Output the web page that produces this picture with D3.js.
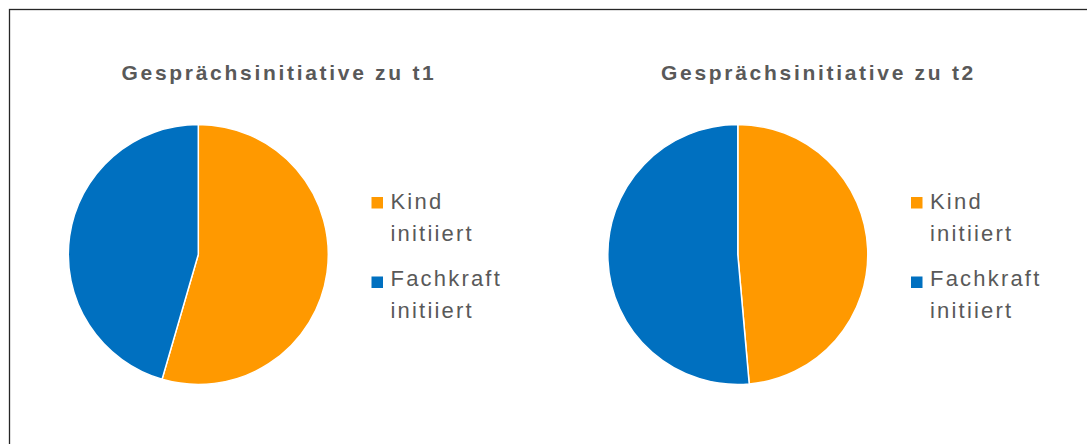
<!DOCTYPE html>
<html>
<head>
<meta charset="utf-8">
<script src="https://cdn.jsdelivr.net/npm/d3@7"></script>
<style>
  body { margin: 0; background: #fff; }
  svg { display: block; font-family: "Liberation Sans", Arial, sans-serif; }
</style>
</head>
<body>
<div id="chart"></div>
<script>
// data (shares in %)
var titles = ["Gesprächsinitiative zu t1", "Gesprächsinitiative zu t2"];
var categories = [["Kind", "initiiert"], ["Fachkraft", "initiiert"]];
var colors = ["#FF9900", "#0070C0"];
var valuesT1 = [54.5, 45.5];
var valuesT2 = [48.6, 51.4];

var svgWidth = 1087;
var svgHeight = 444;

var svg = d3.select("#chart")
  .append("svg")
  .attr("width", svgWidth)
  .attr("height", svgHeight);

// chart frame (right and bottom edge are cut off in the reference)
svg.append("rect")
  .attr("x", 9.5)
  .attr("y", 9.5)
  .attr("width", svgWidth + 20)
  .attr("height", svgHeight + 20)
  .attr("fill", "#fff")
  .attr("stroke", "#262626")
  .attr("stroke-width", 1.3);

var radius = 130;
var pie = d3.pie().sort(null).value(d => d);
var arc = d3.arc().innerRadius(0).outerRadius(radius);

var panels = [
  { title: titles[0], values: valuesT1, offset: 0 },
  { title: titles[1], values: valuesT2, offset: 539.5 }
];

panels.forEach(function(p) {
  var g = svg.append("g")
    .attr("transform", `translate(${p.offset}, 0)`);

  g.append("text")
    .attr("x", 279)
    .attr("y", 80)
    .attr("text-anchor", "middle")
    .attr("font-size", 21)
    .attr("font-weight", "bold")
    .attr("letter-spacing", 2.7)
    .attr("fill", "#595959")
    .text(p.title);

  var pieGroup = g.append("g")
    .attr("transform", `translate(198.3, 254.5)`);

  pieGroup.selectAll("path")
    .data(pie(p.values))
    .enter()
    .append("path")
    .attr("d", arc)
    .attr("fill", (d, i) => colors[i])
    .attr("stroke", "#fff")
    .attr("stroke-width", 1.5);

  // legend
  var legend = g.selectAll(".legend")
    .data(categories)
    .enter()
    .append("g");

  legend.append("rect")
    .attr("x", 371.5)
    .attr("y", (d, i) => 197 + i * 79.5)
    .attr("width", 11.5)
    .attr("height", 11.5)
    .attr("fill", (d, i) => colors[i]);

  var label = legend.append("text")
    .attr("font-size", 22)
    .attr("letter-spacing", 2.2)
    .attr("fill", "#595959");

  label.selectAll("tspan")
    .data((d, i) => d.map(t => ({ t: t, entry: i })))
    .enter()
    .append("tspan")
    .attr("x", 390.5)
    .attr("y", (d, j) => 209.3 + d.entry * 77 + j * 31.5)
    .text(d => d.t);
});
</script>
</body>
</html>
